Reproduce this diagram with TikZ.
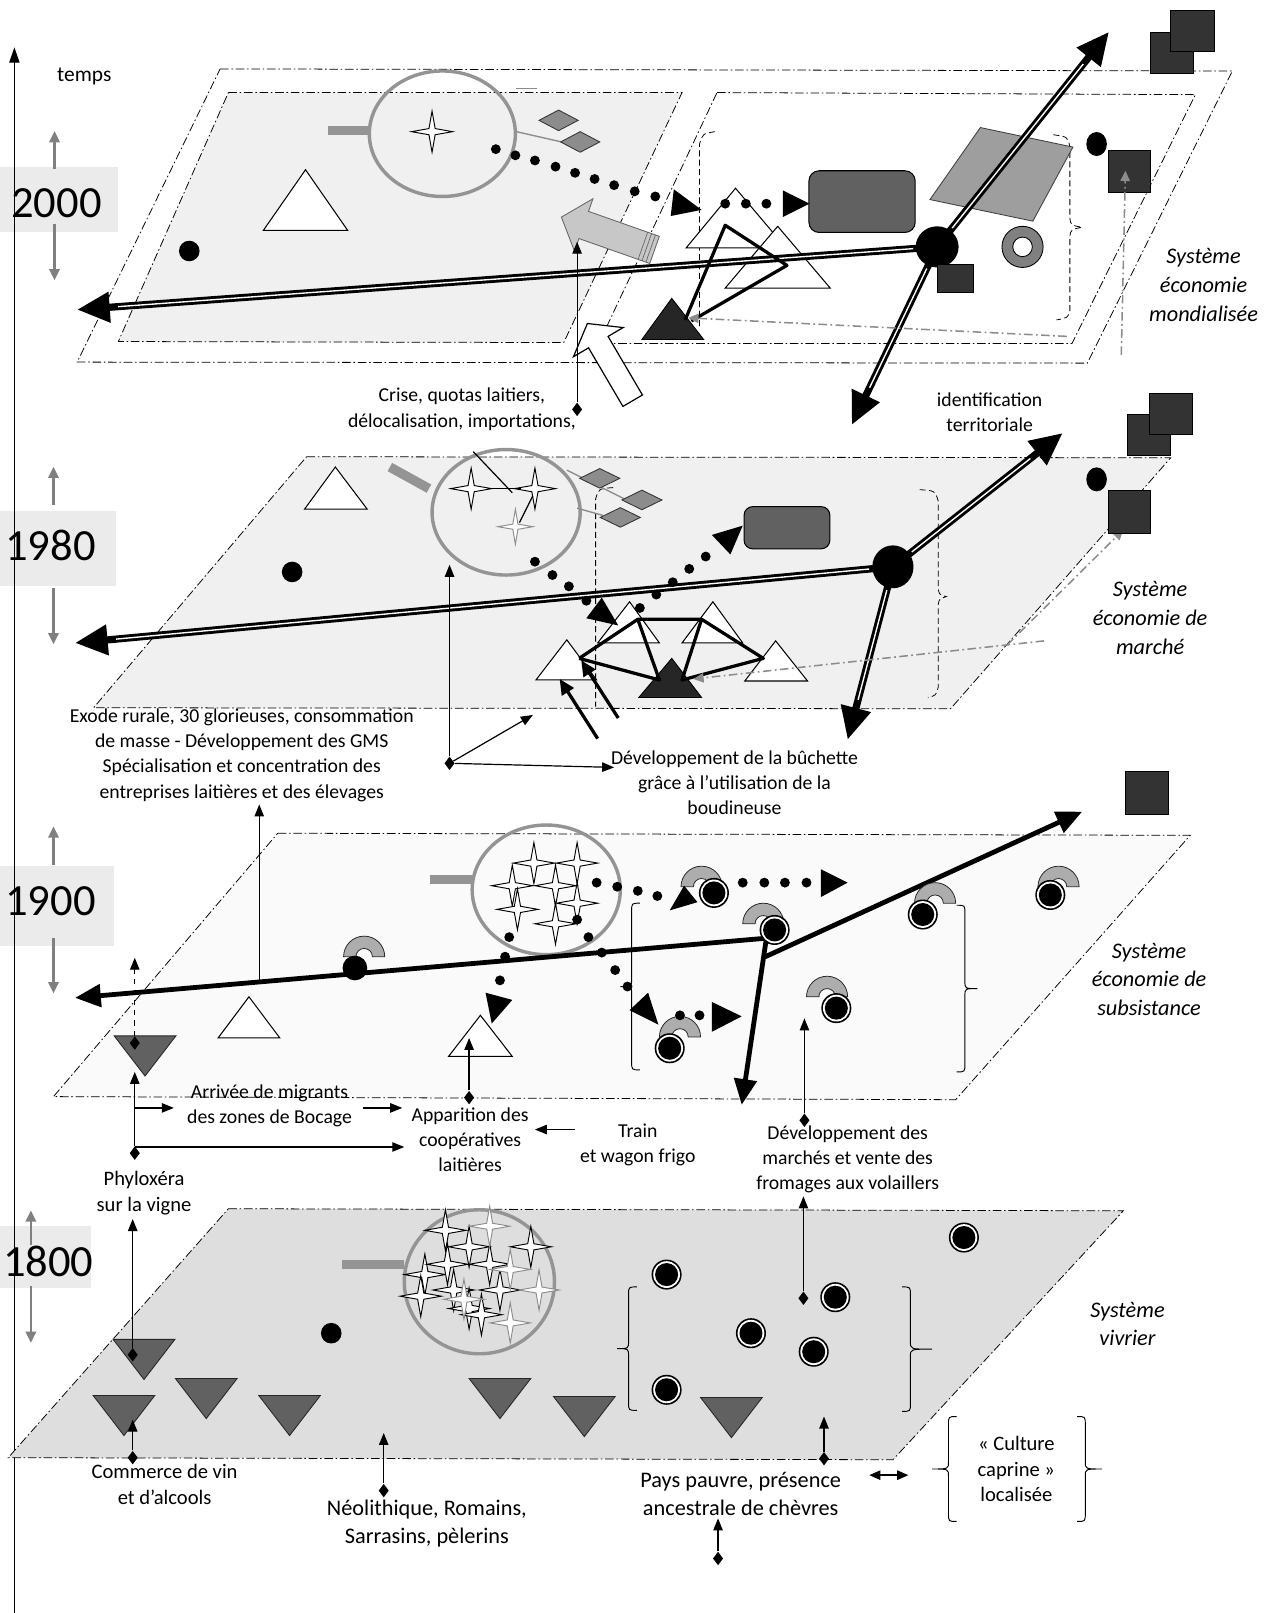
\documentclass[tikz,border=0pt]{standalone}
\usepackage{fontspec}
\setmainfont{Carlito}
\usetikzlibrary{arrows.meta,shapes.geometric,calc}

% curly braces: x of the spine, top y, bottom y, x of the middle point
\newcommand\bracel[4]{%
  \draw[bracepen] ({#1+8},#2) .. controls (#1,#2) .. (#1,{#2+8})
    -- (#1,{(#2+#3)/2-7}) .. controls (#1,{(#2+#3)/2}) .. (#4,{(#2+#3)/2})
    .. controls (#1,{(#2+#3)/2}) .. (#1,{(#2+#3)/2+7})
    -- (#1,{#3-8}) .. controls (#1,#3) .. ({#1+8},#3);}
\newcommand\bracer[4]{%
  \draw[bracepen] ({#1-8},#2) .. controls (#1,#2) .. (#1,{#2+8})
    -- (#1,{(#2+#3)/2-7}) .. controls (#1,{(#2+#3)/2}) .. (#4,{(#2+#3)/2})
    .. controls (#1,{(#2+#3)/2}) .. (#1,{(#2+#3)/2+7})
    -- (#1,{#3-8}) .. controls (#1,#3) .. ({#1-8},#3);}

\tikzset{
  plane/.style={draw=black, line width=0.45pt, dash pattern=on 5pt off 1.6pt on 0.9pt off 1.6pt},
  dashbr/.style={draw=black, line width=0.45pt, dash pattern=on 3.5pt off 2pt},
  bracepen/.style={draw=black, line width=0.55pt},
  grayline/.style={draw=black!45, line width=0.9pt, dash pattern=on 5pt off 2pt on 1pt off 2pt,
    -{Triangle[length=6pt,width=5.5pt,color=black!45]}},
  fatline/.style={draw=black, line width=4.2pt, -{Triangle[length=19pt,width=17pt]}},
  whitestripe/.style={draw=white, line width=0.8pt, shorten <=14pt, shorten >=24pt},
  midline/.style={draw=black, line width=2.8pt, -{Triangle[length=15pt,width=13pt]}},
  netline/.style={draw=black, line width=1.9pt, line join=round},
  netarrow/.style={draw=black, line width=1.9pt, -{Triangle[length=9pt,width=8pt]}},
  fine/.style={draw=black, line width=0.7pt},
  finearrow/.style={draw=black, line width=0.7pt, -{Triangle[length=7pt,width=5.5pt]}},
  yeararrow/.style={draw=black!50, line width=1.3pt, -{Triangle[length=6.5pt,width=6pt]}},
  knot/.style={diamond, fill=black, inner sep=0pt, minimum width=6pt, minimum height=8pt},
  blob/.style={circle, fill=black, inner sep=0pt, minimum size=12pt},
  hubdot/.style={ellipse, fill=black, inner sep=0pt, minimum width=25pt, minimum height=24pt},
  darksq/.style={fill=black!80, draw=black, line width=0.4pt},
  graytile/.style={fill=black!45, draw=black!80, line width=0.5pt},
  opentri/.style={fill=white, draw=black, line width=0.6pt},
  darktri/.style={fill=black!85, draw=black, line width=0.5pt},
  graytri/.style={fill=black!62, draw=black!85, line width=0.5pt},
  lens/.style={draw=black!42, line width=2pt},
  lenshandle/.style={draw=black!42, line width=5.5pt},
  txt/.style={font=\fontsize{11.5}{14.8}\selectfont, align=center, inner sep=0pt},
  bigtxt/.style={font=\fontsize{13}{16.5}\selectfont, align=center, inner sep=0pt},
  systxt/.style={font=\itshape\fontsize{13}{16.8}\selectfont, align=center, inner sep=0pt},
  yeartxt/.style={font=\fontsize{26}{30}\selectfont, inner sep=0pt},
  sparkle/.pic={\filldraw[fill=white, draw=black, line width=0.55pt]
     (0,-20) -- (3,-3) -- (20,0) -- (3,3) -- (0,20) -- (-3,3) -- (-20,0) -- (-3,-3) -- cycle;},
  faintsparkle/.pic={\filldraw[fill=white, draw=black!45, line width=0.55pt]
     (0,-17) -- (2.5,-2.5) -- (17,0) -- (2.5,2.5) -- (0,17) -- (-2.5,2.5) -- (-17,0) -- (-2.5,-2.5) -- cycle;},
  ringdot/.pic={\fill[black] (0,0) circle[radius=14.6]; \fill[white] (0,0) circle[radius=13];
     \fill[black] (0,0) circle[radius=11.2];},
  horseshoe/.pic={\filldraw[fill=black!32, draw=black!85, line width=0.45pt]
     (-20,0) arc[start angle=180, end angle=360, radius=20] -- (8,0)
     arc[start angle=0, end angle=-180, radius=8] -- cycle;},
  droptri/.pic={\filldraw[graytri] (-30,-19.5) -- (30,-19.5) -- (0,19.5) -- cycle;},
}

\begin{document}
\begin{tikzpicture}[x=0.6pt, y=-0.6pt]
\useasboundingbox (0,0) rectangle (1240,1568);

% ================= time axis and years =================
\fill[black!8] (0,162) rectangle (115,226);
\fill[black!8] (0,497) rectangle (113,570);
\fill[black!8] (0,842) rectangle (111,920);
\fill[black!8] (0,1192) rectangle (88,1252);
\coordinate (axisfoot) at (14,1568);
\coordinate (axishead) at (14,46);
\draw[line width=0.8pt, -{Triangle[length=9pt,width=6pt]}] (axisfoot) -- (axishead);
\node[txt, font=\fontsize{12.5}{15}\selectfont] (temps) at (82,74) {temps};

\node[yeartxt] (y2000) at (55,198) {2000};
\node[yeartxt] (y1980) at (49,530) {1980};
\node[yeartxt] (y1900) at (49,876) {1900};
\node[yeartxt] (y1800) at (47,1226) {1800};
\draw[yeararrow] ($(y2000.north)+(-2,-19)$) -- ($(y2000.north)+(-2,-56)$);
\draw[yeararrow] ($(y2000.south)+(-2,5)$) -- ($(y2000.south)+(-2,60)$);
\draw[yeararrow] ($(y1980.north)+(3,-24)$) -- ($(y1980.north)+(3,-61)$);
\draw[yeararrow] ($(y1980.south)+(3,26)$) -- ($(y1980.south)+(3,81)$);
\draw[yeararrow] ($(y1900.north)+(3,-21)$) -- ($(y1900.north)+(3,-58)$);
\draw[yeararrow] ($(y1900.south)+(3,21)$) -- ($(y1900.south)+(3,75)$);
\draw[yeararrow] ($(y1800.north)+(-17,0)$) -- ($(y1800.north)+(-17,-34)$);
\draw[yeararrow] ($(y1800.south)+(-17,9)$) -- ($(y1800.south)+(-17,64)$);

% ================= 2000 : economie mondialisee =================
\draw[plane] (214,67) -- (1198,69) -- (1057,353) -- (75,352) -- cycle;
\filldraw[plane, fill=black!6] (222,90) -- (663,90) -- (548,333) -- (115,332) -- cycle;
\draw[plane] (697,90) -- (1162,92) -- (1042,334) -- (582,334) -- cycle;
\draw[dashbr] (695,128) .. controls (683,130) .. (680,140) -- (680,318);
\draw[dashbr] (1024,131) .. controls (1038,133) .. (1040,143) -- (1040,212)
  .. controls (1041,219) .. (1052,221) .. controls (1041,223) .. (1040,230)
  -- (1040,302) .. controls (1038,309) .. (1027,311);

% lens with one star
\draw[lenshandle] (319,127) -- (359,127);
\draw[lens] (430,130) ellipse [x radius=71, y radius=61];
\pic at (420,128) {sparkle};
\draw[black!45, line width=1pt] (502,86) -- (522,86);
\draw[black!45, line width=0.8pt] (502,128) -- (546,138);
\foreach \cx/\cy in {543/117, 564/138}
  \filldraw[graytile] (\cx-19,\cy) -- (\cx,\cy-10) -- (\cx+19,\cy) -- (\cx,\cy+10) -- cycle;

\filldraw[opentri] (297,165) -- (338,224) -- (256,224) -- cycle;
\node[blob] (dot2000) at (184,244) {};

% block arrow of the crisis
\begin{scope}[shift={(591,227)}, rotate=160.6]
  \filldraw[fill=black!22, draw=black!60, line width=0.5pt]
    (48,0) -- (25,27) -- (25,14) -- (-48,14) -- (-48,-14) -- (25,-14) -- (25,-27) -- cycle;
  \foreach \s in {-44,-40,-36} \draw[black!60, line width=0.4pt] (\s,-14) -- (\s,14);
\end{scope}

\filldraw[opentri] (715,183) -- (764,241) -- (667,241) -- cycle;
\filldraw[opentri] (756,220) -- (807,280) -- (705,280) -- cycle;
\filldraw[darktri] (653,290) -- (684,330) -- (624,330) -- cycle;

\filldraw[fill=black!38, draw=black!75, line width=0.5pt] (953,124) -- (1043,143) -- (1004,215) -- (904,194) -- cycle;
\node[draw=black, line width=0.6pt, fill=black!62, rounded corners=6pt, minimum width=62pt,
  minimum height=36pt, inner sep=0pt] (box2000) at (838,196) {};

% main axes of the 2000 system
\coordinate (hubc20) at (911,240);
\coordinate (tip20w) at (75,301);
\coordinate (tip20ne) at (1078,31);
\coordinate (tip20sw) at (828,413);
\draw[fatline] (hubc20) -- (tip20w);
\draw[fatline] (hubc20) -- (tip20ne);
\draw[fatline] (hubc20) -- (tip20sw);
\foreach \t in {tip20w,tip20ne,tip20sw} \draw[whitestripe] (hubc20) -- (\t);
\node[hubdot] (hub2000) at (hubc20) {};

\filldraw[darksq] (911,257) rectangle (946,284);
\filldraw[fill=black!50, draw=black, line width=0.5pt, even odd rule]
  (994,240) circle[radius=20] (994,240) circle[radius=9.5];
\node[ellipse, fill=black, inner sep=0pt, minimum width=12pt, minimum height=14pt] (dot2000b) at (1066,140) {};
\filldraw[darksq] (1077,146) rectangle (1118,187);
\filldraw[darksq] (1118,31) rectangle (1160,71);
\filldraw[darksq] (1138,10) rectangle (1180,50);

% loop between the triangles
\coordinate (lpA) at (666,311);
\coordinate (lpB) at (705,219);
\coordinate (lpC) at (765,258);
\coordinate (lpD) at (672,312);
\draw[netline] (lpA) -- (lpB) -- (lpC) -- (lpD);

% gray dash-dot links
\coordinate (g20a) at (1037,327);
\coordinate (g20b) at (669,309);
\draw[grayline] (g20a) -- (g20b);
\coordinate (g20c) at (1090,345);
\coordinate (g20d) at (1094,166);
\draw[grayline] (g20c) -- (g20d);

% dotted arrows
\foreach \x/\y in {482/145,501/151,520/156,540/162,559/168,578/174,597/180,617/186,637/191}
  \fill (\x,\y) circle[radius=4.8];
\fill (655,184) -- (682,204) -- (652,210) -- cycle;
\foreach \x/\y in {705/198,725/198,745/198} \fill (\x,\y) circle[radius=4.8];
\fill (761,185) -- (787,198) -- (761,211) -- cycle;

\begin{scope}[shift={(593,352)}, rotate=120.4]
  \filldraw[fill=white, draw=black, line width=0.7pt]
    (43.5,0) -- (22.5,28) -- (22.5,11) -- (-43.5,11) -- (-43.5,-11) -- (22.5,-11) -- (22.5,-28) -- cycle;
\end{scope}

\node[txt] (crise) at (449,398) {Crise, quotas laitiers,\\délocalisation, importations,};
\node[knot] (kcrise) at (561,398) {};
\coordinate (tcrise) at (561,235);
\draw[finearrow] (kcrise) -- (tcrise);
\node[txt] (ident) at (962,401) {identification\\territoriale};
\node[systxt] (sys2000) at (1170,277) {Système\\économie\\mondialisée};

% ================= 1980 : economie de marche =================
\filldraw[plane, fill=black!6] (298,444) -- (1138,445) -- (924,689) -- (91,688) -- cycle;
\draw[dashbr] (596,474) .. controls (582,475) .. (579,485) -- (579,687);
\draw[dashbr] (894,476) .. controls (909,477) .. (912,487) -- (912,572)
  .. controls (913,578) .. (920,580) .. controls (913,582) .. (912,588)
  -- (912,668) .. controls (910,676) .. (902,678);

\draw[lenshandle] (379,454) -- (417,475);
\draw[lens] (492,498) ellipse [x radius=72, y radius=61];
\pic at (458,475) {sparkle};
\pic at (520,475) {sparkle};
\pic at (501,512) {faintsparkle};
\draw[fine] (460,439) -- (498,479);
\draw[fine] (474,475) -- (506,475);
\draw[fine] (518,482) -- (505,508);
\draw[black!45, line width=0.8pt] (551,457) -- (609,486);
\draw[black!45, line width=0.8pt] (561,494) -- (586,501);
\foreach \cx/\cy in {583/465, 624/486, 603/503}
  \filldraw[graytile] (\cx-19.5,\cy) -- (\cx,\cy-9.5) -- (\cx+19.5,\cy) -- (\cx,\cy+9.5) -- cycle;
\node[draw=black, line width=0.6pt, fill=black!62, rounded corners=5pt, minimum width=50pt,
  minimum height=24.6pt, inner sep=0pt] (box1980) at (765,513) {};

\filldraw[opentri] (326,454) -- (357,495) -- (296,495) -- cycle;
\node[blob] (dot1980) at (284,556) {};

\filldraw[opentri] (612,585) -- (641,625) -- (581,625) -- cycle;
\filldraw[opentri] (693,585) -- (722,625) -- (663,625) -- cycle;
\filldraw[opentri] (754,623) -- (785,662) -- (724,662) -- cycle;
\filldraw[opentri] (551,622) -- (580,661) -- (521,661) -- cycle;
\filldraw[darktri] (653,640) -- (682,678) -- (621,678) -- cycle;

\coordinate (nP1) at (563,640);
\coordinate (nP2) at (620,602);
\coordinate (nP3) at (682,602);
\coordinate (nP4) at (742,640);
\coordinate (nBl) at (641,661);
\coordinate (nBr) at (663,661);
\draw[netline] (nP1) -- (nP2) -- (nP3) -- (nP4) -- (nBr) -- (nP3);
\draw[netline] (nP1) -- (nBl) -- (nP2);
\coordinate (ba1) at (581,718);
\coordinate (ba1t) at (544,660);
\coordinate (ba2) at (601,698);
\coordinate (ba2t) at (565,642);
\draw[netarrow] (ba1) -- (ba1t);
\draw[netarrow] (ba2) -- (ba2t);

\coordinate (hubc80) at (868,551);
\coordinate (tip80w) at (73,625);
\coordinate (tip80ne) at (1033,421);
\coordinate (tip80s) at (824,719);
\draw[fatline] (hubc80) -- (tip80w);
\draw[fatline] (hubc80) -- (tip80ne);
\draw[fatline] (hubc80) -- (tip80s);
\foreach \t in {tip80w,tip80ne,tip80s} \draw[whitestripe] (hubc80) -- (\t);
\node[hubdot, minimum width=24pt, minimum height=25pt] (hub1980) at (hubc80) {};

\foreach \x/\y in {520/546,537/559,553/570,570/584} \fill (\x,\y) circle[radius=4.8];
\fill (570,601) -- (585,581) -- (601,608) -- cycle;
\foreach \x/\y in {622/591,638/578,654/566,670/553,686/541} \fill (\x,\y) circle[radius=4.8];
\fill (692,520) -- (722,511) -- (710,539) -- cycle;

\coordinate (g80a) at (1015,623);
\coordinate (g80b) at (674,660);
\draw[grayline] (g80a) -- (g80b);
\coordinate (g80c) at (979,627);
\coordinate (g80d) at (1092,515);
\draw[grayline] (g80c) -- (g80d);

\filldraw[darksq] (1077,477) rectangle (1118,518);
\node[ellipse, fill=black, inner sep=0pt, minimum width=12pt, minimum height=14pt] (dot1980b) at (1066,466) {};
\filldraw[darksq] (1096,403) rectangle (1138,443);
\filldraw[darksq] (1117,382) rectangle (1159,422);
\node[systxt] (sys1980) at (1118,601) {Système\\économie de\\marché};

\node[txt] (exode) at (235,734) {Exode rurale, 30 glorieuses, consommation\\de masse - Développement des GMS\\Spécialisation et concentration des\\entreprises laitières et des élevages};
\node[txt] (buchette) at (714,761) {Développement de la bûchette\\grâce à l’utilisation de la\\boudineuse};
\node[knot] (kexode) at (437,742) {};
\coordinate (texa) at (437,549);
\coordinate (texb) at (518,695);
\coordinate (texc) at (597,746);
\draw[finearrow] (kexode) -- (texa);
\draw[finearrow] (kexode) -- (texb);
\draw[finearrow] (kexode) -- (texc);

% ================= 1900 : economie de subsistance =================
\filldraw[plane, fill=black!2] (270,810) -- (1157,812) -- (929,1069) -- (52,1066) -- cycle;
\bracel{614}{878}{1040}{603}
\bracer{938}{880}{1042}{950}

\draw[lenshandle] (418,855) -- (459,855);
\draw[lens] (531,865) ellipse [x radius=72, y radius=63];
\foreach \x/\y in {519/839,561/839,498/861,540/861,503/884,561/878,540/898}
  \pic at (\x,\y) {sparkle};

\filldraw[opentri] (242,969) -- (272,1009) -- (212,1009) -- cycle;
\filldraw[opentri] (467,987) -- (498,1027) -- (436,1027) -- cycle;
\pic at (141,1026.5) {droptri};

\coordinate (j19) at (745,912);
\coordinate (j19b) at (744,930);
\coordinate (tip19w) at (73,970);
\coordinate (tip19ne) at (1052,789);
\coordinate (tip19s) at (721,1074);
\draw[midline] (j19) -- (tip19w);
\draw[midline] (j19b) -- (tip19ne);
\draw[midline] (j19) -- (tip19s);

\pic at (354,930) {horseshoe};
\fill (345,941) circle[radius=12];
\foreach \cx/\cy/\ax/\ay in {694/868/682/862, 753/904/742/898, 897/889/909/878,
    1021/870/1029/862, 813/980/804/969, 651/1019/661/1008}
  {\pic at (\ax,\ay) {horseshoe}; \pic at (\cx,\cy) {ringdot};}

\foreach \x/\y in {580/858,600/862,620/866,639/871,722/858,743/858,763/858,784/858,
    561/894,495/911,572/911,491/930,486/953,585/926,598/943,610/959,661/987,680/987}
  \fill (\x,\y) circle[radius=4.8];
\fill (651,885) -- (665,861) -- (678,877) -- cycle;
\fill (798,845) -- (824,858) -- (798,872) -- cycle;
\fill (472,965) -- (498,972) -- (478,995) -- cycle;
\fill (612,982) -- (630,965) -- (640,996) -- cycle;
\fill (692,974) -- (721,988) -- (692,1003) -- cycle;

\filldraw[darksq] (1094,750) rectangle (1136,792);
\node[systxt] (sys1900) at (1117,952) {Système\\économie de\\subsistance};

\coordinate (m19) at (252,955);
\coordinate (m19t) at (252,782);
\draw[finearrow] (m19) -- (m19t);

\node[txt] (migr) at (262,1075) {Arrivée de migrants\\des zones de Bocage};
\node[txt] (coop) at (457,1108) {Apparition des\\coopératives\\laitières};
\node[txt] (train) at (620,1113) {Train\\et wagon frigo};
\node[txt] (march) at (824,1127) {Développement des\\marchés et vente des\\fromages aux volaillers};
\node[txt, font=\fontsize{12}{14.8}\selectfont] (phylo) at (140,1160) {Phyloxéra\\sur la vigne};

\node[knot] (k19a) at (131,1014) {};
\coordinate (t19a) at (131,931);
\draw[finearrow, dashed] (k19a) -- (t19a);
\node[knot] (k19b) at (131,1121) {};
\coordinate (t19b) at (131,1042);
\draw[finearrow] (k19b) -- (t19b);
\coordinate (br1) at (131,1077);
\coordinate (br1e) at (169,1077);
\draw[finearrow] (br1) -- (br1e);
\coordinate (br2) at (131,1115);
\coordinate (br2e) at (393,1115);
\draw[finearrow] (br2) -- (br2e);
\coordinate (mc1) at (353,1077);
\coordinate (mc2) at (391,1077);
\draw[finearrow] (mc1) -- (mc2);
\node[knot] (k19c) at (456,1067) {};
\coordinate (t19c) at (456,1009);
\draw[finearrow] (k19c) -- (t19c);
\coordinate (tr1) at (559,1098);
\coordinate (tr2) at (520,1098);
\draw[finearrow] (tr1) -- (tr2);
\node[knot] (k19d) at (782,1089) {};
\coordinate (t19d) at (782,990);
\draw[finearrow] (k19d) -- (t19d);

% ================= 1800 : systeme vivrier =================
\filldraw[plane, fill=black!13] (222,1175) -- (1092,1177) -- (868,1419) -- (8,1417) -- cycle;
\bracel{611}{1251}{1371}{600}
\bracer{885}{1251}{1372}{906}

\draw[lenshandle] (332,1229) -- (393,1229);
\draw[lens] (466,1246) ellipse [x radius=73, y radius=70];
\foreach \x/\y in {433/1196,456/1212,516/1212,413/1239,435/1229,476/1229,409/1260,441/1254,486/1254,456/1272,468/1278}
  \pic at (\x,\y) {sparkle};
\foreach \x/\y in {476/1192,496/1234,524/1254,451/1263,496/1286}
  \pic[scale=1.15] at (\x,\y) {faintsparkle};

\node[blob] (dot1800) at (322,1296) {};
\foreach \x/\y in {140/1321.5, 120.5/1376, 200.5/1359.5, 281.5/1376, 486/1359.5, 568/1377, 711/1378}
  \pic at (\x,\y) {droptri};
\foreach \x/\y in {648/1239, 812/1261, 730/1296, 791/1314, 648/1351, 937/1203}
  \pic at (\x,\y) {ringdot};

\node[systxt] (sys1800) at (1096,1287) {Système\\vivrier};

\node[txt, font=\fontsize{12}{14.8}\selectfont] (commerce) at (160,1443) {Commerce de vin\\et d’alcools};
\node[bigtxt] (neo) at (415,1481) {Néolithique, Romains,\\Sarrasins, pèlerins};
\node[bigtxt] (pays) at (720,1452) {Pays pauvre, présence\\ancestrale de chèvres};
\node[txt, font=\fontsize{12}{15}\selectfont] (culture) at (988,1428) {« Culture\\caprine »\\localisée};
\bracel{922}{1377}{1479}{906}
\bracer{1055}{1377}{1479}{1071}

\node[knot] (kphy) at (129,1317) {};
\coordinate (tphy) at (129,1185);
\draw[finearrow] (kphy) -- (tphy);
\node[knot] (kcom) at (129,1417) {};
\coordinate (tcom) at (129,1380);
\draw[finearrow] (kcom) -- (tcom);
\node[knot] (kneo) at (373,1449) {};
\coordinate (tneo) at (373,1393);
\draw[finearrow] (kneo) -- (tneo);
\node[knot] (kpay1) at (801,1418) {};
\coordinate (tpay1) at (801,1377);
\draw[finearrow] (kpay1) -- (tpay1);
\node[knot] (kpay2) at (698,1515) {};
\coordinate (tpay2) at (698,1476);
\draw[finearrow] (kpay2) -- (tpay2);
\node[knot] (kmar) at (781,1262) {};
\coordinate (tmar) at (781,1163);
\draw[finearrow] (kmar) -- (tmar);
\coordinate (lr1) at (845,1434);
\coordinate (lr2) at (883,1434);
\draw[line width=0.8pt, {Triangle[length=6.5pt,width=5.5pt]}-{Triangle[length=6.5pt,width=5.5pt]}] (lr1) -- (lr2);

\end{tikzpicture}
\end{document}
